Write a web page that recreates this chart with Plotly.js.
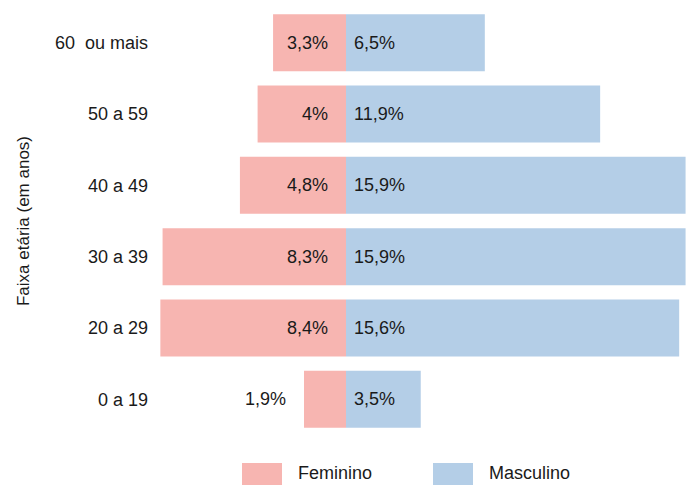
<!DOCTYPE html>
<html>
<head>
<meta charset="utf-8">
<script src="https://cdn.plot.ly/plotly-3.0.1.min.js"></script>
<style>html,body{margin:0;padding:0;background:#fff;}#chart{width:686px;height:485px;}</style>
</head>
<body>
<div id="chart"></div>
<script>
const categories = ["0 a 19", "20 a 29", "30 a 39", "40 a 49", "50 a 59", "60  ou mais"];
const feminino = [1.9, 8.4, 8.3, 4.8, 4.0, 3.3];
const masculino = [3.5, 15.6, 15.9, 15.9, 11.9, 6.5];
const femLabels = ["1,9%", "8,4%", "8,3%", "4,8%", "4%", "3,3%"];
const mascLabels = ["3,5%", "15,6%", "15,9%", "15,9%", "11,9%", "6,5%"];
const seriesNames = ["Feminino", "Masculino"];

const FONT = "'Liberation Sans', Arial, sans-serif";
const FS = 18;
const PINK = "#F7B5B1";
const BLUE = "#B4CEE7";
const TXT = "#1a1a1a";
const NB = "\u00A0";

const L = 155, W = 531, CENTER = 346;
const split = (CENTER - L) / W;

const traces = [
  {
    type: "bar", orientation: "h", name: seriesNames[0],
    y: categories, x: feminino.map(v => -v), xaxis: "x", yaxis: "y",
    text: femLabels.map(t => t + NB + NB + NB),
    textposition: ["outside", "inside", "inside", "inside", "inside", "inside"],
    insidetextanchor: "start", cliponaxis: false, constraintext: "none",
    textfont: {family: FONT, size: FS, color: TXT},
    insidetextfont: {family: FONT, size: FS, color: TXT},
    outsidetextfont: {family: FONT, size: FS, color: TXT},
    marker: {color: PINK}, hoverinfo: "skip"
  },
  {
    type: "bar", orientation: "h", name: seriesNames[1],
    y: categories, x: masculino, xaxis: "x2", yaxis: "y",
    text: mascLabels.map(t => NB + t), textposition: "inside", insidetextanchor: "start",
    cliponaxis: false, constraintext: "none",
    textfont: {family: FONT, size: FS, color: TXT},
    insidetextfont: {family: FONT, size: FS, color: TXT},
    marker: {color: BLUE}, hoverinfo: "skip"
  }
];

const layout = {
  width: 686, height: 485,
  margin: {l: L, r: 0, t: 7, b: 50},
  paper_bgcolor: "#fff", plot_bgcolor: "#fff",
  barmode: "group", bargap: 0.2, bargroupgap: 0,
  showlegend: false,
  font: {family: FONT, size: FS, color: TXT},
  xaxis: {domain: [0, split], range: [-(CENTER - L) / 22.1, 0], visible: false, fixedrange: true, anchor: "y"},
  xaxis2: {domain: [split, 1], range: [0, 15.92], visible: false, fixedrange: true, anchor: "y"},
  yaxis: {
    type: "category", showgrid: false, zeroline: false, showline: false, ticks: "",
    tickfont: {family: FONT, size: FS, color: TXT},
    ticklabelstandoff: 6,
    title: {text: "Faixa etária (em anos)", font: {family: FONT, size: 17, color: TXT}, standoff: 20}
  },
  shapes: [
    {type: "rect", xref: "paper", yref: "paper", x0: (242 - L) / W, x1: (282 - L) / W, y0: -28 / 428, y1: -52 / 428, fillcolor: PINK, line: {width: 0}},
    {type: "rect", xref: "paper", yref: "paper", x0: (433 - L) / W, x1: (473 - L) / W, y0: -28 / 428, y1: -52 / 428, fillcolor: BLUE, line: {width: 0}}
  ],
  annotations: [
    {xref: "paper", yref: "paper", x: (296 - L) / W, y: -38 / 428, xanchor: "left", yanchor: "middle", text: seriesNames[0], showarrow: false, font: {family: FONT, size: FS, color: TXT}},
    {xref: "paper", yref: "paper", x: (487 - L) / W, y: -38 / 428, xanchor: "left", yanchor: "middle", text: seriesNames[1], showarrow: false, font: {family: FONT, size: FS, color: TXT}}
  ]
};

Plotly.newPlot("chart", traces, layout, {displayModeBar: false, staticPlot: true});
</script>
</body>
</html>
